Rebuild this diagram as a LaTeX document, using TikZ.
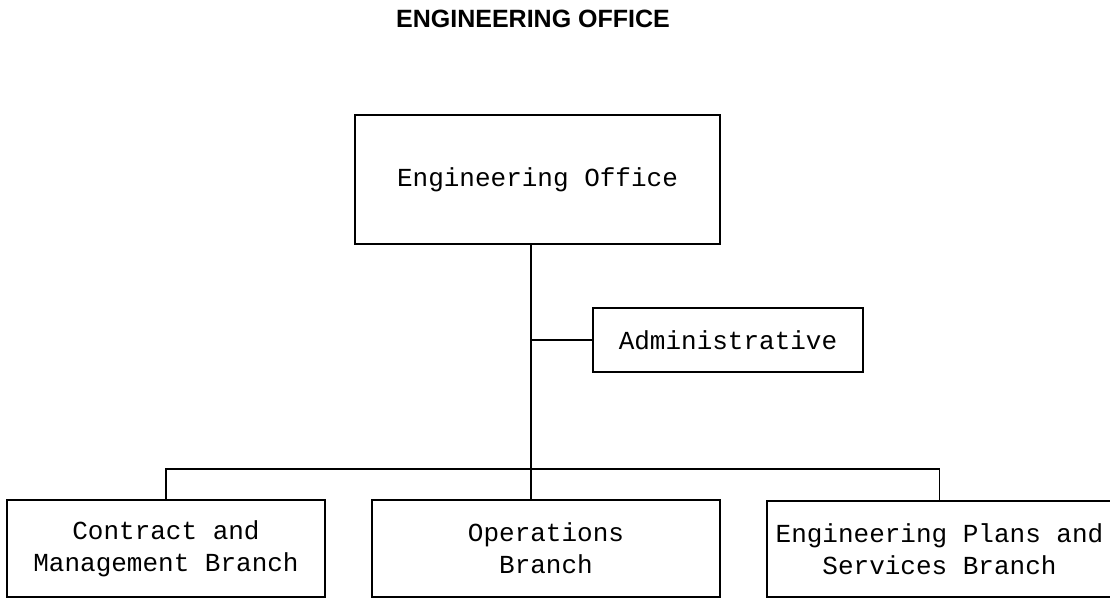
\documentclass[tikz,border=0pt]{standalone}
\usepackage{fontspec}
\newfontfamily\boxfont{Liberation Mono}
\newfontfamily\titlefont{Liberation Sans}
\begin{document}
\begin{tikzpicture}[x=1pt,y=-1pt,
  orgbox/.style={draw,line width=1.5pt,inner sep=0pt,align=center,
    font=\boxfont\fontsize{26}{32}\selectfont},
  link/.style={line width=1.5pt}]
\useasboundingbox (0,0) rectangle (1110,599);
\node[font=\titlefont\bfseries\fontsize{25}{30}\selectfont] (title) at (533,18.5) {ENGINEERING OFFICE};
\node[orgbox,minimum width=365pt,minimum height=129pt] (top) at (537.5,179.5) {Engineering Office};
\node[orgbox,minimum width=270pt,minimum height=64pt] (adm) at (728,340) {Administrative};
\node[orgbox,minimum width=318pt,minimum height=97pt] (left) at (166,548.5) {Contract and\\Management Branch};
\node[orgbox,minimum width=348pt,minimum height=97pt] (mid) at (546,548.5) {Operations\\Branch};
\node[orgbox,minimum width=345pt,minimum height=96pt] (right) at (939.5,549) {Engineering Plans and\\Services Branch};
\coordinate (j) at (531,469);
\draw[link] (top.south -| j) -- (mid.north -| j);
\draw[link] (adm.west) -- (adm.west -| j);
\draw[link] (left.north) |- (j) -| (right.north);
\end{tikzpicture}
\end{document}
